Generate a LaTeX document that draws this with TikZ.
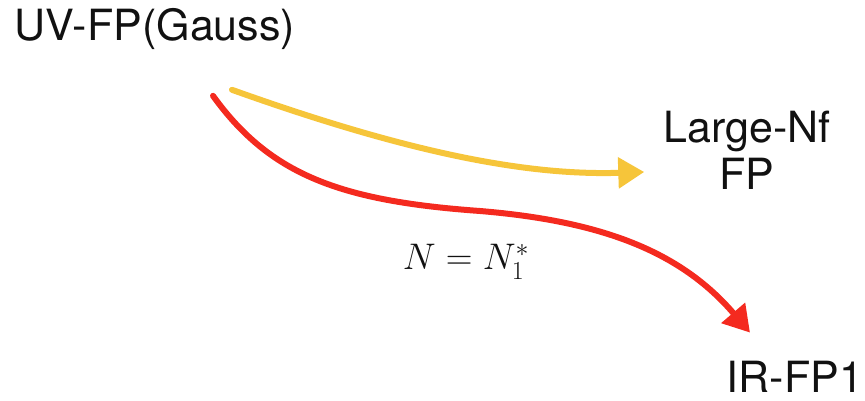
\RequirePackage{fix-cm}
\documentclass[tikz,border=0pt]{standalone}
\usepackage[no-math]{fontspec}
\setmainfont{TeX Gyre Heros}
\usepackage{xcolor}
\definecolor{cFlowY}{HTML}{F6C53A}
\definecolor{cFlowR}{HTML}{F42A1F}
\definecolor{cText}{HTML}{111111}
\usepackage{tikz}
\usetikzlibrary{positioning,arrows.meta,calc}
\tikzset{
  node-fp/.style={inner sep=0pt,align=center,text=cText,
    font=\fontsize{43}{47}\selectfont},
  node-cond/.style={inner sep=0pt,text=cText,
    font=\fontsize{37}{40}\selectfont},
  % hand-drawn flows: thick strokes with a filled triangle head
  arrow-flow/.style={-{Triangle[length=26pt,width=30pt]},line width=6pt,
    line cap=round},
  arrow-large/.style={arrow-flow,draw=cFlowY},
  arrow-crit/.style={arrow-flow,draw=cFlowR},
}

\begin{document}
\begin{tikzpicture}[x=1pt,y=1pt]
  \useasboundingbox (0,0) rectangle (865,401);
  \node[node-fp] (uv) at (155,372) {UV-FP(Gauss)};
  \node[node-fp] (largenf) at (747,250.5) {Large-Nf\\FP};
  \node[node-fp] (irfp) at (795,24) {IR-FP1};
  \node[node-cond,anchor=base] (cond) at (466,131) {$N = N_1^*$};
  \coordinate (uv-y) at ($(uv.south)+(77,-40)$);
  \coordinate (uv-r) at ($(uv.south)+(58,-46)$);
  \draw[arrow-large] (uv-y) .. controls +(168,-60) and +(-123,-4)
    .. ([shift={(-19,-21.5)}]largenf.west);
  \draw[arrow-crit] (uv-r) .. controls +(57,-79) and +(-140,10) .. (480,190)
    .. controls +(120,-10) and +(-70,82) .. ([shift={(-45,28.5)}]irfp.north);
\end{tikzpicture}
\end{document}
